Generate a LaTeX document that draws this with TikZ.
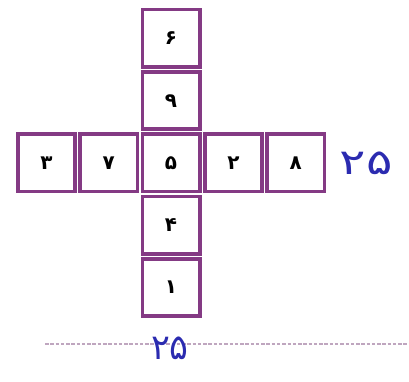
\documentclass[tikz,border=0pt]{standalone}
\usepackage{fontspec}
\newfontfamily\farsi[Script=Arabic]{DejaVu Sans}
\definecolor{CellPurple}{HTML}{843A84}
\definecolor{SumBlue}   {HTML}{2B2BB0}
\definecolor{RuleGray}  {HTML}{BFA6BF}
\usetikzlibrary{positioning}

\begin{document}
\begin{tikzpicture}[node distance=0.04cm,
  cell/.style={draw=CellPurple,fill=white,line width=0.11cm,
    minimum size=1.72cm,inner sep=0pt,
    font=\farsi\bfseries\fontsize{17}{17}\selectfont},
  sumlabel/.style={text=SumBlue,inner sep=0pt,
    font=\farsi\fontsize{30}{30}\selectfont}]
  \useasboundingbox (0,0) rectangle (12.27,11.43);
  % middle cell shared by the row and the column
  \node[cell] (C) at (5.13,6.54) {۵};
  \node[cell,left=of C] (L1) {۷};
  \node[cell,left=of L1] (L2) {۳};
  \node[cell,right=of C] (R1) {۲};
  \node[cell,right=of R1] (R2) {۸};
  \node[cell,above=of C] (U1) {۹};
  \node[cell,above=of U1] (U2) {۶};
  \node[cell,below=of C] (D1) {۴};
  \node[cell,below=of D1] (D2) {۱};
  % sums
  \node[sumlabel,xscale=1.4,transform shape,right=0.4cm of R2]
    (rowsum) {۲۵};
  \coordinate (ruleL) at (1.35,1.11);
  \coordinate (ruleR) at (12.27,1.11);
  \draw[RuleGray,line width=2.4pt,dash pattern=on 3pt off 1.5pt]
    (ruleL) -- (ruleR);
  \node[sumlabel] (colsum) at (5.1,0.98) {۲۵};
\end{tikzpicture}
\end{document}
